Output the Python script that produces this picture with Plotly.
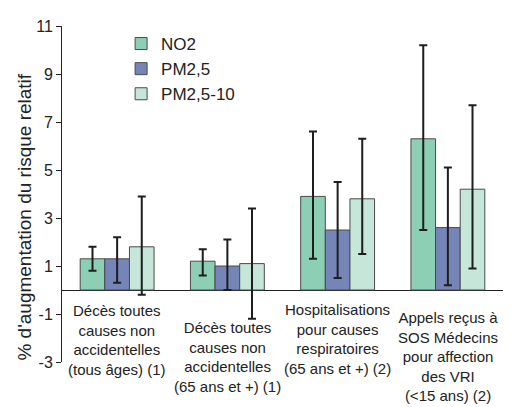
import plotly.graph_objects as go

categories = [
    "Décès toutes<br>causes non<br>accidentelles<br>(tous âges) (1)",
    "Décès toutes<br>causes non<br>accidentelles<br>(65 ans et +) (1)",
    "Hospitalisations<br>pour causes<br>respiratoires<br>(65 ans et +) (2)",
    "Appels reçus à<br>SOS Médecins<br>pour affection<br>des VRI<br>(<15 ans) (2)",
]
series_names = ["NO2", "PM2,5", "PM2,5-10"]
no2 = [1.3, 1.2, 3.9, 6.3]
no2_low = [0.8, 0.6, 1.3, 2.5]
no2_high = [1.8, 1.7, 6.6, 10.2]
pm25 = [1.3, 1.0, 2.5, 2.6]
pm25_low = [0.3, 0.0, 0.5, 0.2]
pm25_high = [2.2, 2.1, 4.5, 5.1]
pm2510 = [1.8, 1.1, 3.8, 4.2]
pm2510_low = [-0.2, -1.2, 1.5, 0.9]
pm2510_high = [3.9, 3.4, 6.3, 7.7]
y_ticks = [-3, -1, 1, 3, 5, 7, 9, 11]
y_tick_labels = ["-3", "-1", "1", "3", "5", "7", "9", "11"]
y_title = "% d'augmentation du risque relatif"

colors = ["#8ccfb5", "#7585b8", "#c5e6d8"]
label_tops = [0.184, 0.135, 0.188, 0.165]

fig = go.Figure()
x_idx = list(range(len(categories)))
for i, (vals, lo, hi) in enumerate([
    (no2, no2_low, no2_high),
    (pm25, pm25_low, pm25_high),
    (pm2510, pm2510_low, pm2510_high),
]):
    fig.add_trace(go.Bar(
        x=x_idx, y=vals, name=series_names[i],
        marker=dict(color=colors[i], line=dict(color="#4a4a4a", width=1)),
        error_y=dict(type="data", symmetric=False,
                     array=[h - v for h, v in zip(hi, vals)],
                     arrayminus=[v - l for v, l in zip(vals, lo)],
                     color="#1e1e1e", thickness=2, width=4),
    ))

for i, cat in enumerate(categories):
    fig.add_annotation(x=i, y=label_tops[i], xref="x", yref="paper",
                       text=cat, showarrow=False, yanchor="top",
                       font=dict(size=15, color="#222"), align="center")

fig.add_annotation(x=-0.086, y=0.43, xref="paper", yref="paper",
                   text=y_title, showarrow=False, textangle=-90,
                   xanchor="center", yanchor="middle",
                   font=dict(size=19, color="#222"))

fig.update_layout(
    width=505, height=399,
    margin=dict(l=54, r=10, t=15, b=45),
    paper_bgcolor="white", plot_bgcolor="white",
    barmode="group", bargap=0.33, bargroupgap=0,
    font=dict(family="Arial, Liberation Sans, sans-serif", color="#222"),
    showlegend=True,
    legend=dict(x=0.134, y=1.0, xanchor="left", yanchor="top",
                font=dict(size=17), traceorder="normal",
                bgcolor="rgba(0,0,0,0)"),
    xaxis=dict(range=[-0.5, 3.5], showticklabels=False, showline=False,
               showgrid=False, zeroline=False, ticks=""),
    yaxis=dict(range=[-3, 11], tickvals=y_ticks, ticktext=y_tick_labels,
               ticks="outside", ticklen=5,
               tickcolor="#222", showline=True, linecolor="#222", linewidth=1,
               showgrid=False, zeroline=True, zerolinecolor="#222",
               zerolinewidth=1, tickfont=dict(size=16)),
)

fig.write_html("out.html")
